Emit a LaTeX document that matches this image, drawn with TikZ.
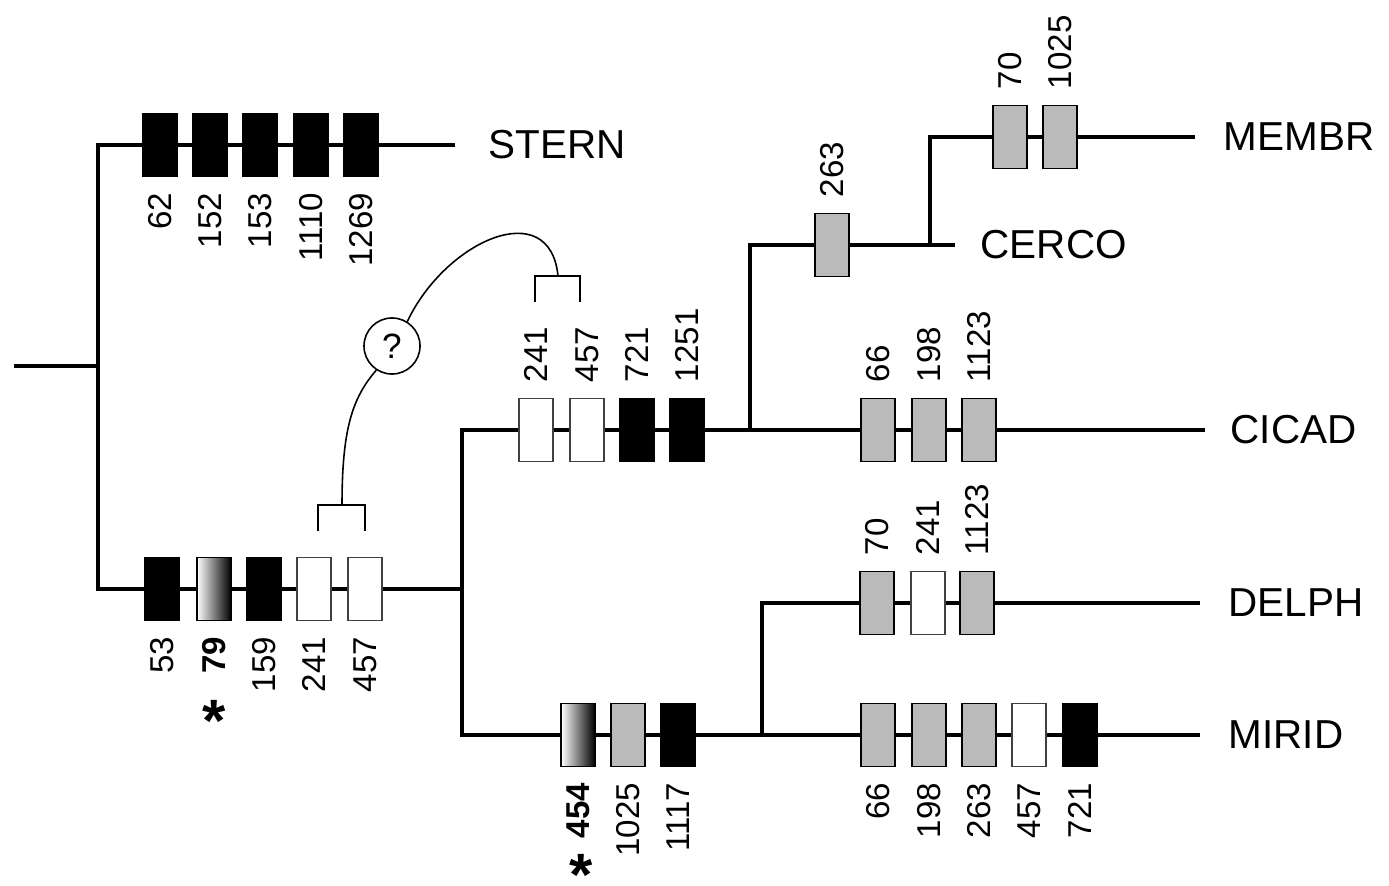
\documentclass[tikz,border=0pt]{standalone}
\usepackage{fontspec}
\setmainfont{Liberation Sans}
\usetikzlibrary{positioning}

\begin{document}
\begin{tikzpicture}[
        x=0.01cm, y=-0.01cm,
        branch/.style={line width=1.2pt},
        thinline/.style={line width=0.45pt},
        bar/.style={rectangle, draw, line width=0.4pt, minimum width=0.34cm, minimum height=0.63cm, inner sep=0pt},
        bblk/.style={bar, fill=black},
        bgry/.style={bar, fill=black!27},
        bwht/.style={bar, draw=black!75, fill=white},
        bmix/.style={bar, left color=white, right color=black},
        num/.style={rotate=90, inner sep=0pt, font=\fontsize{9.4}{10}\selectfont},
        numb/.style={num, font=\fontsize{9.4}{10}\selectfont\bfseries},
        taxon/.style={inner sep=0pt, anchor=west, font=\fontsize{11.5}{13}\selectfont},
        star/.style={inner sep=0pt, anchor=base, font=\fontsize{17}{17}\selectfont\bfseries}
    ]
        \useasboundingbox (0,0) rectangle (1389,885);

        % branch points
        \coordinate (root) at (14,366);
        \coordinate (a) at (98,366);
        \coordinate (a1) at (98,145);
        \coordinate (a2) at (98,589);
        \coordinate (stEnd) at (455,145);
        \coordinate (b1) at (462,430);
        \coordinate (b) at (462,589);
        \coordinate (b2) at (462,735);
        \coordinate (c) at (750,430);
        \coordinate (c1) at (750,245);
        \coordinate (d) at (930,245);
        \coordinate (d1) at (930,137);
        \coordinate (ceEnd) at (955,245);
        \coordinate (meEnd) at (1195,137);
        \coordinate (ciEnd) at (1205,430);
        \coordinate (e) at (762,735);
        \coordinate (e1) at (762,603);
        \coordinate (deEnd) at (1200,603);
        \coordinate (miEnd) at (1200,735);

        % taxa
        \node[taxon] (stern) at (488,145) {STERN};
        \node[taxon] (cerco) at (980,245) {CERCO};
        \node[taxon] (membr) at (1223,137) {MEMBR};
        \node[taxon] (cicad) at (1230,430) {CICAD};
        \node[taxon] (delph) at (1228,603) {DELPH};
        \node[taxon] (mirid) at (1228,735) {MIRID};

        % tree
        \draw[branch] (root) -- (a);
        \draw[branch] (stEnd) -- (a1) -- (a2) -- (b);
        \draw[branch] (ciEnd) -- (b1) -- (b2) -- (miEnd);
        \draw[branch] (c) -- (c1) -- (ceEnd);
        \draw[branch] (d) -- (d1) -- (meEnd);
        \draw[branch] (deEnd) -- (e1) -- (e);

        % STERN
        \node[bblk] (st62) at (160,145) {};
        \node[bblk] (st152) at (210,145) {};
        \node[bblk] (st153) at (260,145) {};
        \node[bblk] (st1110) at (311,145) {};
        \node[bblk] (st1269) at (361,145) {};
        \node[num, anchor=east] (tst62) at ([yshift=-0.15cm]st62.south) {62};
        \node[num, anchor=east] (tst152) at ([yshift=-0.15cm]st152.south) {152};
        \node[num, anchor=east] (tst153) at ([yshift=-0.15cm]st153.south) {153};
        \node[num, anchor=east] (tst1110) at ([yshift=-0.15cm]st1110.south) {1110};
        \node[num, anchor=east] (tst1269) at ([yshift=-0.15cm]st1269.south) {1269};

        % lower left
        \node[bblk] (ll53) at (162,589) {};
        \node[bmix] (ll79) at (214,589) {};
        \node[bblk] (ll159) at (264,589) {};
        \node[bwht] (ll241) at (314,589) {};
        \node[bwht] (ll457) at (365,589) {};
        \node[num, anchor=east] (tll53) at ([yshift=-0.15cm]ll53.south) {53};
        \node[numb, anchor=east] (tll79) at ([yshift=-0.15cm]ll79.south) {79};
        \node[num, anchor=east] (tll159) at ([yshift=-0.15cm]ll159.south) {159};
        \node[num, anchor=east] (tll241) at ([yshift=-0.15cm]ll241.south) {241};
        \node[num, anchor=east] (tll457) at ([yshift=-0.15cm]ll457.south) {457};
        \node[star] (s79) at (214,707) {\raisebox{-0.57em}[0.15em][0.15em]{*}};

        % CICAD
        \node[bwht] (ci241) at (536,430) {};
        \node[bwht] (ci457) at (587,430) {};
        \node[bblk] (ci721) at (637,430) {};
        \node[bblk] (ci1251) at (687,430) {};
        \node[bgry] (ci66) at (878,430) {};
        \node[bgry] (ci198) at (929,430) {};
        \node[bgry] (ci1123) at (979,430) {};
        \node[num, anchor=west] (tci241) at ([yshift=0.15cm]ci241.north) {241};
        \node[num, anchor=west] (tci457) at ([yshift=0.15cm]ci457.north) {457};
        \node[num, anchor=west] (tci721) at ([yshift=0.15cm]ci721.north) {721};
        \node[num, anchor=west] (tci1251) at ([yshift=0.15cm]ci1251.north) {1251};
        \node[num, anchor=west] (tci66) at ([yshift=0.15cm]ci66.north) {66};
        \node[num, anchor=west] (tci198) at ([yshift=0.15cm]ci198.north) {198};
        \node[num, anchor=west] (tci1123) at ([yshift=0.15cm]ci1123.north) {1123};

        % CERCO + MEMBR
        \node[bgry] (ce263) at (832,245) {};
        \node[bgry] (me70) at (1010,137) {};
        \node[bgry] (me1025) at (1060,137) {};
        \node[num, anchor=west] (tce263) at ([yshift=0.15cm]ce263.north) {263};
        \node[num, anchor=west] (tme70) at ([yshift=0.15cm]me70.north) {70};
        \node[num, anchor=west] (tme1025) at ([yshift=0.15cm]me1025.north) {1025};

        % DELPH
        \node[bgry] (de70) at (877,603) {};
        \node[bwht] (de241) at (928,603) {};
        \node[bgry] (de1123) at (977,603) {};
        \node[num, anchor=west] (tde70) at ([yshift=0.15cm]de70.north) {70};
        \node[num, anchor=west] (tde241) at ([yshift=0.15cm]de241.north) {241};
        \node[num, anchor=west] (tde1123) at ([yshift=0.15cm]de1123.north) {1123};

        % MIRID
        \node[bmix] (mi454) at (578,735) {};
        \node[bgry] (mi1025) at (628,735) {};
        \node[bblk] (mi1117) at (678,735) {};
        \node[bgry] (mi66) at (878,735) {};
        \node[bgry] (mi198) at (929,735) {};
        \node[bgry] (mi263) at (979,735) {};
        \node[bwht] (mi457) at (1029,735) {};
        \node[bblk] (mi721) at (1080,735) {};
        \node[numb, anchor=east] (tmi454) at ([yshift=-0.15cm]mi454.south) {454};
        \node[num, anchor=east] (tmi1025) at ([yshift=-0.15cm]mi1025.south) {1025};
        \node[num, anchor=east] (tmi1117) at ([yshift=-0.15cm]mi1117.south) {1117};
        \node[num, anchor=east] (tmi66) at ([yshift=-0.15cm]mi66.south) {66};
        \node[num, anchor=east] (tmi198) at ([yshift=-0.15cm]mi198.south) {198};
        \node[num, anchor=east] (tmi263) at ([yshift=-0.15cm]mi263.south) {263};
        \node[num, anchor=east] (tmi457) at ([yshift=-0.15cm]mi457.south) {457};
        \node[num, anchor=east] (tmi721) at ([yshift=-0.15cm]mi721.south) {721};
        \node[star] (s454) at (581,861) {\raisebox{-0.57em}[0.15em][0.15em]{*}};

        % 241/457 link
        \node[circle, draw, thinline, minimum size=0.56cm, inner sep=0pt, font=\fontsize{10}{11}\selectfont] (q) at (392,346) {?};
        \coordinate (bl) at (342,505);
        \coordinate (bu) at (558,276);
        \draw[thinline] (318,531) -- (318,505) -- (365,505) -- (365,531);
        \draw[thinline] (535,302) -- (535,276) -- (580,276) -- (580,302);
        \draw[thinline] (bl) .. controls (342,430) and (352,398) .. (q.237);
        \draw[thinline] (q.58) .. controls (446,240) and (550,195) .. (bu);
    \end{tikzpicture}
\end{document}
